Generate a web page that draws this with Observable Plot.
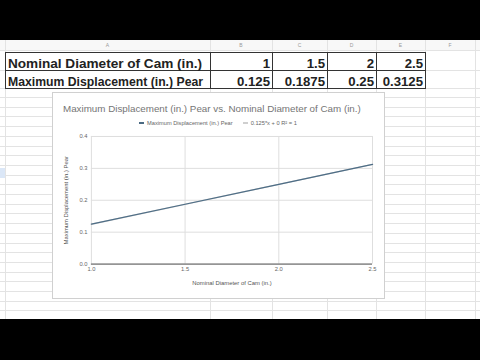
<!DOCTYPE html>
<html>
<head>
<meta charset="utf-8">
<script src="https://cdn.jsdelivr.net/npm/d3@7"></script>
<script src="https://cdn.jsdelivr.net/npm/@observablehq/plot@0.6"></script>
<style>
  html, body { margin: 0; padding: 0; background: #000; }
  #page { position: relative; width: 480px; height: 360px; overflow: hidden; background: #000; font-family: "Liberation Sans", Arial, sans-serif; }
  #sheet { position: absolute; left: 0; top: 40px; width: 480px; height: 279px; background: #fff; overflow: hidden; }
  .hl { position: absolute; left: 0; width: 480px; height: 1px; background: #e3e3e3; }
  .vl { position: absolute; top: 0; width: 1px; height: 279px; background: #e3e3e3; }
  .colh { position: absolute; top: 2px; font-size: 5px; color: #999; transform: translateX(-50%); }
  .cell { position: absolute; font-size: 13.2px; font-weight: bold; color: #222; white-space: nowrap; line-height: 1; }
  .tb { position: absolute; background: #333; }
  #chart { position: absolute; left: 52px; top: 92px; width: 333px; height: 207px; background: #fff; border: 1px solid #d0d0d0; box-sizing: border-box; }
  #title { position: absolute; left: 10px; top: 10px; font-size: 9.8px; color: #757575; white-space: nowrap; }
  #legend { position: absolute; left: 86px; top: 27px; font-size: 5.7px; color: #666; white-space: nowrap; display: flex; align-items: center; }
  .sw { display: inline-block; width: 5px; height: 2px; margin-right: 3px; }
  #plot { position: absolute; left: -1px; top: 35px; }
</style>
</head>
<body>
<div id="page">
  <div id="sheet"></div>
  <div id="chart">
    <div id="title"></div>
    <div id="legend"></div>
    <div id="plot"></div>
  </div>
</div>
<script>
// ---- data ----
const rowLabels = ["Nominal Diameter of Cam (in.)", "Maximum Displacement (in.) Pear"];
const diameters = [1, 1.5, 2, 2.5];
const displacements = [0.125, 0.1875, 0.25, 0.3125];
const columnLetters = ["A", "B", "C", "D", "E", "F"];
const chartTitle = "Maximum Displacement (in.) Pear vs. Nominal Diameter of Cam (in.)";
const seriesName = "Maximum Displacement (in.) Pear";
const trendLabel = "0.125*x + 0 R\u00B2 = 1";
const xLabel = "Nominal Diameter of Cam (in.)";
const yLabel = "Maximum Displacement (in.) Pear";
const xTicks = [1, 1.5, 2, 2.5];
const yTicks = [0, 0.1, 0.2, 0.3, 0.4];

// ---- spreadsheet backdrop ----
const sheet = document.getElementById("sheet");
const colEdges = [5, 210, 272, 327, 376, 425, 475];
const hls = [10, 29.5, 47.5];
for (let y = 57; y < 279; y += 9.7) hls.push(y);
const hdr = document.createElement("div");
hdr.style.cssText = "position:absolute;left:0;top:0;width:480px;height:10px;background:#f8f8f8;";
sheet.appendChild(hdr);
hls.forEach(y => { const d = document.createElement("div"); d.className = "hl"; d.style.top = y + "px"; sheet.appendChild(d); });
colEdges.forEach(x => { const d = document.createElement("div"); d.className = "vl"; d.style.left = x + "px"; sheet.appendChild(d); });
const sel = document.createElement("div");
sel.style.cssText = "position:absolute;left:0;top:128px;width:5px;height:10px;background:#dbe7f7;";
sheet.appendChild(sel);
columnLetters.forEach((c, i) => {
  const d = document.createElement("div"); d.className = "colh"; d.textContent = c;
  d.style.left = ((colEdges[i] + colEdges[i + 1]) / 2) + "px"; sheet.appendChild(d);
});
function tb(l, t, w, h) { const d = document.createElement("div"); d.className = "tb"; d.style.cssText += `left:${l}px;top:${t}px;width:${w}px;height:${h}px;`; sheet.appendChild(d); }
tb(5, 11.5, 421, 1); tb(5, 29.5, 421, 1); tb(5, 47.5, 421, 1);
[5, 210, 272, 327, 376, 425].forEach(x => tb(x, 11.5, 1, 37));
const rowsVals = [diameters.map(String), displacements.map(String)];
const rowTops = [16.8, 34.6];
const labelWidths = [194, 195];
rowLabels.forEach((lab, r) => {
  const d = document.createElement("div"); d.className = "cell"; d.textContent = lab;
  d.style.left = "8px"; d.style.top = rowTops[r] + "px"; d.style.transformOrigin = "0 0";
  sheet.appendChild(d);
  const w = d.getBoundingClientRect().width;
  d.style.transform = `scaleX(${labelWidths[r] / w})`;
  rowsVals[r].forEach((v, i) => {
    const c = document.createElement("div"); c.className = "cell"; c.textContent = v;
    c.style.right = (480 - colEdges[i + 2] + 2) + "px"; c.style.top = rowTops[r] + "px"; sheet.appendChild(c);
  });
});

// ---- chart ----
document.getElementById("title").textContent = chartTitle;
const leg = document.getElementById("legend");
leg.innerHTML = `<span class="sw" style="background:#4a6a82"></span><span style="margin-right:10px">${seriesName}</span><span class="sw" style="background:#cfcfcf"></span><span>${trendLabel}</span>`;

const data = diameters.map((d, i) => ({ x: d, y: displacements[i] }));

const plot = Plot.plot({
  width: 333,
  height: 172,
  marginLeft: 39,
  marginRight: 12,
  marginTop: 8,
  marginBottom: 36,
  style: { fontFamily: "Liberation Sans, Arial, sans-serif", background: "transparent", color: "#666", overflow: "visible" },
  x: { domain: [1, 2.5] },
  y: { domain: [0, 0.4] },
  marks: [
    Plot.gridY(yTicks, { stroke: "#dedede", strokeOpacity: 1 }),
    Plot.gridX(xTicks, { stroke: "#dedede", strokeOpacity: 1 }),
    Plot.axisY(yTicks, { tickFormat: d3.format(".1f"), tickSize: 0, tickPadding: 4, fontSize: 5.8, label: null, fill: "#666" }),
    Plot.axisX(xTicks, { tickFormat: d3.format(".1f"), tickSize: 0, tickPadding: 3, fontSize: 5.8, label: null, fill: "#666" }),
    Plot.ruleY([0], { stroke: "#555", strokeWidth: 1 }),
    Plot.linearRegressionY(data, { x: "x", y: "y", ci: 0, stroke: "#cfcfcf", strokeWidth: 1.5 }),
    Plot.line(data, { x: "x", y: "y", stroke: "#4d6d86", strokeWidth: 1.2 }),
    Plot.text([xLabel], { frameAnchor: "bottom", dy: 21, text: d => d, fontSize: 5.9, fill: "#555" }),
    Plot.text([yLabel], { frameAnchor: "left", dx: -25, rotate: -90, textAnchor: "middle", text: d => d, fontSize: 5.9, fill: "#555" })
  ]
});
document.getElementById("plot").appendChild(plot);
</script>
</body>
</html>
